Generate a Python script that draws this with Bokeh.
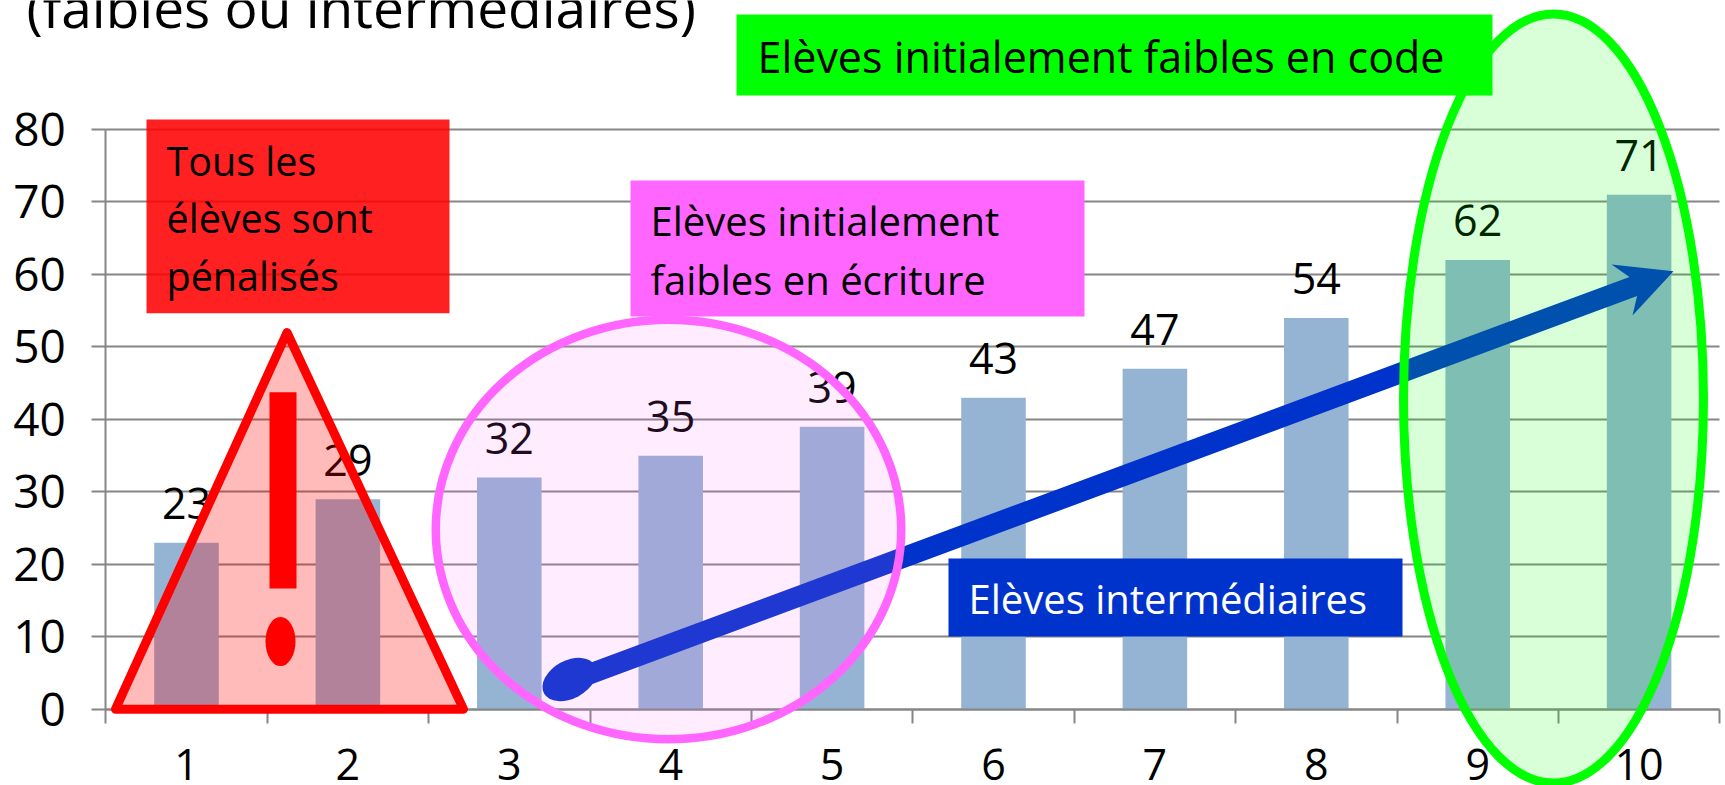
from bokeh.plotting import figure
from bokeh.models import LinearAxis, FixedTicker, Grid, Range1d
from bokeh.core.properties import value
from bokeh.embed import file_html
from bokeh.resources import INLINE

categories = [1, 2, 3, 4, 5, 6, 7, 8, 9, 10]
scores = [23, 29, 32, 35, 39, 43, 47, 54, 62, 71]
y_ticks = [0, 10, 20, 30, 40, 50, 60, 70, 80]
x_boundaries = [0.5, 1.5, 2.5, 3.5, 4.5, 5.5, 6.5, 7.5, 8.5, 9.5, 10.5]

title_text = "(faibles ou intermédiaires)"
red_lines = ["Tous les", "élèves sont", "pénalisés"]
pink_lines = ["Elèves initialement", "faibles en écriture"]
green_line = "Elèves initialement faibles en code"
blue_line = "Elèves intermédiaires"

FONT = "Open Sans"
W, H = 1725, 785
X0, XU = 105.3, 161.4    # page px of x=0.5, px per category
Y0, YU = 708.9, 7.25     # page px of y=0, px per unit
K = 0.35                 # baseline correction, em


def dx(px):
    return 0.5 + (px - X0) / XU


def dy(py):
    return (Y0 - py) / YU


p = figure(width=W, height=H, output_backend="svg", toolbar_location=None,
           x_axis_location=None, y_axis_location=None,
           x_range=Range1d(dx(0), dx(W)), y_range=Range1d(dy(H), dy(0)),
           min_border=0, min_border_left=0, min_border_right=0,
           min_border_top=0, min_border_bottom=0, outline_line_color=None)
p.grid.visible = False
GRID = "#868686"

grid = Grid(dimension=1, ticker=FixedTicker(ticks=y_ticks), cross_bounds=(0.5, 10.5),
            grid_line_color=GRID, grid_line_width=2)
p.add_layout(grid)

# axes
yaxis = LinearAxis(fixed_location=0.5, ticker=FixedTicker(ticks=y_ticks), bounds=(0, 80),
                   axis_line_color=GRID, axis_line_width=2, major_tick_line_color=GRID,
                   major_tick_line_width=2, major_tick_in=0, major_tick_out=14,
                   minor_tick_line_color=None, major_label_text_font=FONT,
                   major_label_text_font_size="46px", major_label_text_color="black",
                   major_label_standoff=26)
p.add_layout(yaxis, "left")
xaxis = LinearAxis(fixed_location=0, bounds=(0.5, 10.5),
                   ticker=FixedTicker(ticks=categories, minor_ticks=x_boundaries),
                   axis_line_color=GRID, axis_line_width=2, major_tick_line_color=None,
                   major_tick_in=0, major_tick_out=0,
                   minor_tick_line_color=GRID, minor_tick_line_width=2,
                   minor_tick_in=0, minor_tick_out=14,
                   major_label_text_font=FONT, major_label_text_font_size="43px",
                   major_label_text_color="black", major_label_standoff=26)
p.add_layout(xaxis, "below")

# bars and value labels
p.vbar(x=categories, top=scores, bottom=0, width=0.4, fill_color="#95B3D3", line_color=None)
p.text(x=categories, y=scores, text=[str(s) for s in scores], text_align="center",
       text_baseline="alphabetic", y_offset=-24 - 0.35 * 43, text_font=value(FONT),
       text_font_size="43px", text_color="black")

# title
p.text(x=[dx(26)], y=[dy(25 - K * 55)], text=[title_text], text_font=value(FONT),
       text_font_size="55px", text_color="black", text_baseline="alphabetic")


def box(x0, x1, y0, y1, color, alpha=1.0):
    p.quad(left=[dx(x0)], right=[dx(x1)], top=[dy(y0)], bottom=[dy(y1)], fill_color=color,
           fill_alpha=alpha, line_color=None, level="overlay")


def label(x, y, s, color="black", size=39.5):
    p.text(x=[dx(x)], y=[dy(y - K * size)], text=[s], text_font=value(FONT),
           text_font_size=f"{size}px", text_color=color, text_baseline="alphabetic",
           level="overlay")


def oval(cx, cy, w, h, lw, color, alpha, angle=0.0, line=True):
    p.ellipse(x=[dx(cx)], y=[dy(cy)], width=[w / XU], height=[h / YU], angle=angle,
              fill_color=color, fill_alpha=alpha, line_color=color if line else None,
              line_width=lw, level="overlay")


# arrow
BLUE = "#0033CC"
ax = [dx(v) for v in (569, 1629, 1611, 1673, 1632, 1636.6, 569)]
ay = [dy(v) for v in (670, 276.4, 264, 270.7, 315, 295.6, 692)]
p.patch(ax, ay, fill_color=BLUE, line_color=None, level="overlay")
oval(569, 679, 58, 38, 0, BLUE, 1.0, angle=0.5, line=False)

# blue box
box(948, 1402, 558, 636, BLUE)
label(968, 612, blue_line, color="white", size=40)

# red box
box(146, 449, 119, 312.7, "#FF0000", 0.87)
for line, base in zip(red_lines, (174, 231.7, 289)):
    label(166, base, line)

# triangle and exclamation mark
p.patch([dx(v) for v in (286.5, 463, 115)], [dy(v) for v in (332, 708.7, 708.7)],
        fill_color="#FF0000", fill_alpha=0.27, line_color="#FF0000", line_width=9,
        line_join="round", level="overlay")
box(269, 296, 391.7, 588, "#FF0000")
oval(280, 641, 30, 49, 0, "#FF0000", 1.0, line=False)

# pink box and ellipse
box(630, 1084, 180, 316, "#FF66FF")
for line, base in zip(pink_lines, (234.3, 292.7)):
    label(650, base, line, size=40)
oval(668, 529, 465.5, 419.5, 8.5, "#FF66FF", 0.12)

# green ellipse and box
oval(1553, 398, 300, 769, 9, "#00FF00", 0.15)
box(736, 1492, 14, 95, "#00FF00")
label(757, 70.7, green_line, size=43)

open("out.html", "w").write(file_html(p, INLINE))
